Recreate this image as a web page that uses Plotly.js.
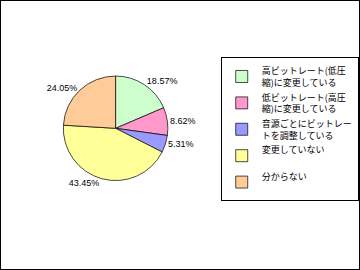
<!DOCTYPE html>
<html><head><meta charset="utf-8">
<script src="https://cdn.plot.ly/plotly-3.0.1.min.js"></script>
<style>html,body{margin:0;padding:0;background:#fff}#c{width:358px;height:268px;border:1px solid #000}</style>
</head><body><div id="c"></div>
<script>
const categories = ["高ビットレート(低圧<br>縮)に変更している","低ビットレート(高圧<br>縮)に変更している","音源ごとにビットレー<br>トを調整している","変更していない<br> ","分からない<br> "];
const values = [18.57, 8.62, 5.31, 43.45, 24.05];
const valueLabels = ["18.57%","8.62%","5.31%","43.45%","24.05%"];
const colors = ["#CCFFCC","#FF99CC","#9999FF","#FFFF99","#FFCC99"];
Plotly.newPlot('c', [{
  type:'pie', labels:categories, values:values, text:valueLabels,
  textinfo:'text', textposition:'outside', sort:false, direction:'clockwise', rotation:0,
  marker:{colors:colors, line:{color:'#000', width:0.7}},
  textfont:{size:9, color:'#000', family:'Liberation Sans, Arial'},
  domain:{x:[0.14,0.54], y:[0.33,0.72]}, hoverinfo:'none'
}], {
  width:358, height:268, margin:{l:0,r:0,t:0,b:0},
  paper_bgcolor:'#fff', showlegend:true,
  legend:{x:0.652, y:0.79, xanchor:'left', yanchor:'top', bgcolor:'#fff', bordercolor:'#000', borderwidth:1,
    itemwidth:30, font:{size:9, family:'Noto Sans CJK JP', color:'#000'}, traceorder:'normal'}
}, {staticPlot:true});
</script></body></html>
